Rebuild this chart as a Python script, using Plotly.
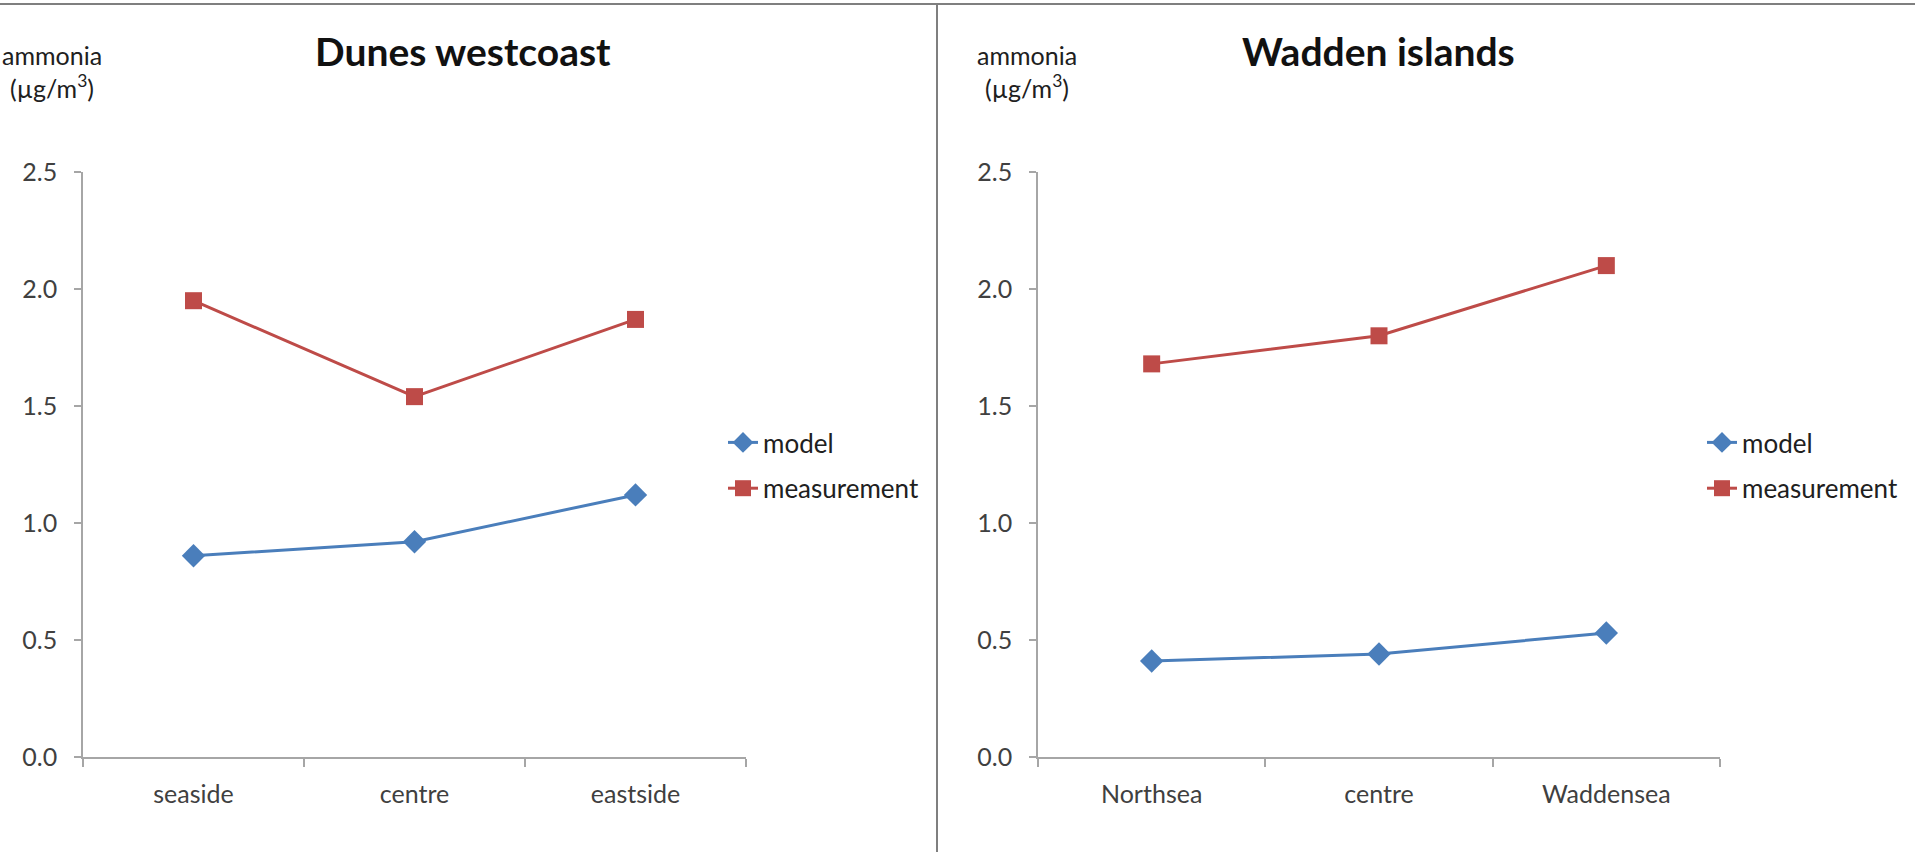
import plotly.graph_objects as go

W, H = 1915, 852

# ---- data -------------------------------------------------------------
dunes_sites = ["seaside", "centre", "eastside"]
dunes_model = [0.86, 0.92, 1.12]
dunes_measurement = [1.95, 1.54, 1.87]

wadden_sites = ["Northsea", "centre", "Waddensea"]
wadden_model = [0.41, 0.44, 0.53]
wadden_measurement = [1.68, 1.80, 2.10]

y_ticks = [0.0, 0.5, 1.0, 1.5, 2.0, 2.5]
y_tick_text = ["0.0", "0.5", "1.0", "1.5", "2.0", "2.5"]

BLUE = "#4A7EBB"
RED = "#BE4B48"
AXIS = "#A6A6A6"
FONT = "Lato"


def px_x(p):
    return p / W


def px_y(p):
    return 1 - p / H


fig = go.Figure()

panels = [
    ("x", "y", "legend", dunes_sites, dunes_model, dunes_measurement),
    ("x2", "y2", "legend2", wadden_sites, wadden_model, wadden_measurement),
]
for xa, ya, lg, sites, model, meas in panels:
    fig.add_trace(go.Scatter(
        x=sites, y=model, name="model", xaxis=xa, yaxis=ya, legend=lg,
        legendgroup=lg + "m", mode="lines+markers",
        line=dict(color=BLUE, width=3),
        marker=dict(symbol="diamond", size=18, color=BLUE),
    ))
    fig.add_trace(go.Scatter(
        x=sites, y=meas, name="measurement", xaxis=xa, yaxis=ya, legend=lg,
        legendgroup=lg + "r", mode="lines+markers",
        line=dict(color=RED, width=3),
        marker=dict(symbol="square", size=17, color=RED),
    ))

x_common = dict(
    type="category", showgrid=False, zeroline=False, showline=True,
    linecolor=AXIS, linewidth=1.5, ticks="outside", tickson="boundaries",
    ticklen=8, tickcolor=AXIS, tickwidth=1.5, ticklabelstandoff=14,
    tickfont=dict(family=FONT, size=25, color="#404040"),
    range=[-0.5, 2.5], fixedrange=True, automargin=False,
)
y_common = dict(
    range=[0, 2.5], tickvals=y_ticks, ticktext=y_tick_text, showgrid=False,
    zeroline=False, showline=True, linecolor=AXIS, linewidth=1.5,
    ticks="outside", ticklen=7, tickcolor=AXIS, tickwidth=1.5,
    ticklabelstandoff=12,
    tickfont=dict(family=FONT, size=25, color="#404040"),
    fixedrange=True, automargin=False,
)
y_dom = [px_y(757), px_y(172)]

legend_common = dict(
    xanchor="left", yanchor="top",
    font=dict(family=FONT, size=26, color="#202020"),
    tracegroupgap=9, bgcolor="rgba(0,0,0,0)", itemwidth=30,
)

fig.update_layout(
    width=W, height=H,
    margin=dict(l=0, r=0, t=0, b=0, autoexpand=False),
    paper_bgcolor="white", plot_bgcolor="white",
    font=dict(family=FONT, color="#404040"),
    xaxis=dict(domain=[px_x(83), px_x(746)], anchor="y", **x_common),
    yaxis=dict(domain=y_dom, anchor="x", **y_common),
    xaxis2=dict(domain=[px_x(1038), px_x(1720)], anchor="y2", **x_common),
    yaxis2=dict(domain=y_dom, anchor="x2", **y_common),
    legend=dict(x=px_x(723), y=px_y(419), **legend_common),
    legend2=dict(x=px_x(1702), y=px_y(419), **legend_common),
    showlegend=True,
)

# panel titles and axis captions
for cx, title in [(463, "Dunes westcoast"), (1378, "Wadden islands")]:
    fig.add_annotation(
        x=px_x(cx), y=px_y(51), xref="paper", yref="paper",
        text="<b>" + title + "</b>", showarrow=False,
        xanchor="center", yanchor="middle",
        font=dict(family=FONT, size=39, color="#111111"),
    )
for cx in (52, 1027):
    fig.add_annotation(
        x=px_x(cx), y=px_y(71), xref="paper", yref="paper",
        text="ammonia<br>(µg/m<sup>3</sup>)", showarrow=False,
        xanchor="center", yanchor="middle", align="center",
        font=dict(family=FONT, size=25, color="#202020"),
    )

# frame lines: top border and divider between the two panels
fig.add_shape(type="line", xref="paper", yref="paper",
              x0=0, x1=1, y0=px_y(4), y1=px_y(4),
              line=dict(color="#7F7F7F", width=2))
fig.add_shape(type="line", xref="paper", yref="paper",
              x0=px_x(937), x1=px_x(937), y0=0, y1=px_y(4),
              line=dict(color="#7F7F7F", width=2))

fig.write_html("out.html")
